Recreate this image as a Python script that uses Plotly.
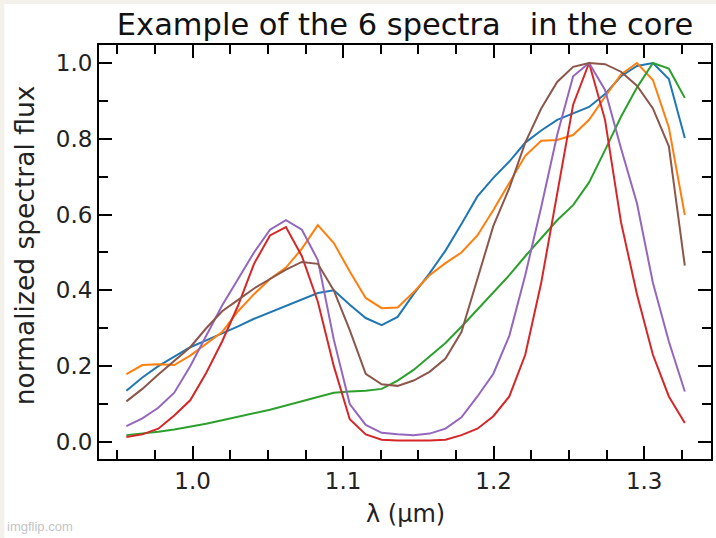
import plotly.graph_objects as go

# wavelength grid (micron)
wavelength = [0.956, 0.9666, 0.9772, 0.9878, 0.9984, 1.009, 1.0196, 1.0302, 1.0408, 1.0514,
              1.062, 1.0726, 1.0832, 1.0938, 1.1044, 1.115, 1.1256, 1.1362, 1.1468, 1.1574,
              1.168, 1.1786, 1.1892, 1.1998, 1.2104, 1.221, 1.2316, 1.2422, 1.2528, 1.2634,
              1.274, 1.2846, 1.2952, 1.3058, 1.3164, 1.327]

spec_1 = [0.135, 0.170, 0.200, 0.225, 0.250, 0.268, 0.286, 0.305, 0.325, 0.342,
          0.358, 0.376, 0.393, 0.400, 0.362, 0.327, 0.308, 0.330, 0.390, 0.445,
          0.505, 0.575, 0.648, 0.697, 0.740, 0.790, 0.822, 0.850, 0.867, 0.884,
          0.918, 0.965, 0.992, 1.000, 0.958, 0.802]
spec_2 = [0.179, 0.203, 0.205, 0.203, 0.228, 0.258, 0.290, 0.345, 0.390, 0.430,
          0.460, 0.510, 0.572, 0.525, 0.450, 0.380, 0.353, 0.355, 0.395, 0.440,
          0.472, 0.500, 0.545, 0.612, 0.685, 0.755, 0.795, 0.797, 0.810, 0.850,
          0.911, 0.970, 1.000, 0.955, 0.830, 0.599]
spec_3 = [0.018, 0.022, 0.027, 0.033, 0.040, 0.048, 0.057, 0.066, 0.075, 0.085,
          0.096, 0.108, 0.120, 0.130, 0.133, 0.135, 0.140, 0.162, 0.190, 0.225,
          0.261, 0.304, 0.350, 0.395, 0.440, 0.490, 0.537, 0.585, 0.625, 0.685,
          0.770, 0.858, 0.935, 1.000, 0.985, 0.908]
spec_4 = [0.013, 0.020, 0.035, 0.070, 0.110, 0.182, 0.265, 0.360, 0.470, 0.545,
          0.567, 0.490, 0.370, 0.200, 0.060, 0.020, 0.006, 0.004, 0.004, 0.004,
          0.006, 0.018, 0.035, 0.068, 0.120, 0.230, 0.420, 0.660, 0.890, 1.000,
          0.850, 0.580, 0.390, 0.230, 0.120, 0.050]
spec_5 = [0.042, 0.062, 0.090, 0.130, 0.200, 0.280, 0.360, 0.430, 0.500, 0.560,
          0.585, 0.560, 0.480, 0.270, 0.100, 0.045, 0.024, 0.020, 0.018, 0.022,
          0.035, 0.065, 0.120, 0.180, 0.280, 0.440, 0.620, 0.810, 0.965, 1.000,
          0.929, 0.775, 0.630, 0.420, 0.265, 0.133]
spec_6 = [0.107, 0.140, 0.178, 0.215, 0.250, 0.300, 0.345, 0.375, 0.405, 0.430,
          0.455, 0.475, 0.470, 0.400, 0.295, 0.180, 0.152, 0.148, 0.162, 0.185,
          0.220, 0.290, 0.430, 0.570, 0.670, 0.790, 0.880, 0.950, 0.990, 1.000,
          0.997, 0.977, 0.940, 0.880, 0.780, 0.465]

spectra = [spec_1, spec_2, spec_3, spec_4, spec_5, spec_6]
colors = ["#1f77b4", "#ff7f0e", "#2ca02c", "#d62728", "#9467bd", "#8c564b"]

FONT = "DejaVu Sans"

fig = go.Figure()
for ys, c in zip(spectra, colors):
    fig.add_trace(go.Scatter(x=wavelength, y=ys, mode="lines",
                             line=dict(color=c, width=2), showlegend=False))

# plot area in pixels: x 99..713, y 45..459
W, H = 716, 538
L, R, T, B = 99, 3, 45, 79
pw, ph = W - L - R, H - T - B

def px_x(p):
    return (p - L) / pw

def px_y(p):
    return (H - B - p) / ph

axis_common = dict(
    showline=True, linecolor="black", linewidth=2, mirror="ticks",
    ticks="inside", ticklen=13, tickwidth=2, tickcolor="black",
    showgrid=False, zeroline=False,
    tickfont=dict(family=FONT, size=23, color="#222"),
)

fig.update_xaxes(range=[0.9378, 1.3444], tick0=1.0, dtick=0.1, tickformat=".1f",
                 minor=dict(dtick=0.025, tick0=1.0, ticks="inside", ticklen=9,
                            tickwidth=1.5, tickcolor="black", showgrid=False),
                 **axis_common)
fig.update_yaxes(range=[-0.045, 1.0475], tick0=0.0, dtick=0.2, tickformat=".1f",
                 minor=dict(dtick=0.1, tick0=0.0, ticks="inside", ticklen=9,
                            tickwidth=1.5, tickcolor="black", showgrid=False),
                 **axis_common)

fig.update_layout(
    width=W, height=H,
    margin=dict(l=L, r=R, t=T, b=B),
    paper_bgcolor="#f3f1ea",
    plot_bgcolor="white",
    title=dict(text="Example of the 6 spectra   in the core",
               font=dict(family=FONT, size=30.5, color="#111"),
               x=0.5, xref="paper", xanchor="center",
               y=1 - 24 / H, yref="container", yanchor="middle"),
    shapes=[dict(type="rect", xref="paper", yref="paper", layer="below",
                 x0=px_x(4), x1=px_x(720), y0=px_y(545), y1=px_y(4),
                 fillcolor="white", line=dict(width=0))],
    annotations=[
        dict(text="normalized spectral flux", textangle=-90, showarrow=False,
             xref="paper", yref="paper", x=px_x(24), y=px_y(245),
             xanchor="center", yanchor="middle",
             font=dict(family=FONT, size=26.5, color="#222")),
        dict(text="λ (μm)", showarrow=False,
             xref="paper", yref="paper", x=px_x(407), y=px_y(514),
             xanchor="center", yanchor="middle",
             font=dict(family=FONT, size=24, color="#222")),
        dict(text="imgflip.com", showarrow=False,
             xref="paper", yref="paper", x=px_x(5), y=px_y(526),
             xanchor="left", yanchor="middle",
             font=dict(family="Liberation Sans Narrow, Liberation Sans", size=13,
                       color="#c4c4c4")),
    ],
)

fig.write_html("out.html")
